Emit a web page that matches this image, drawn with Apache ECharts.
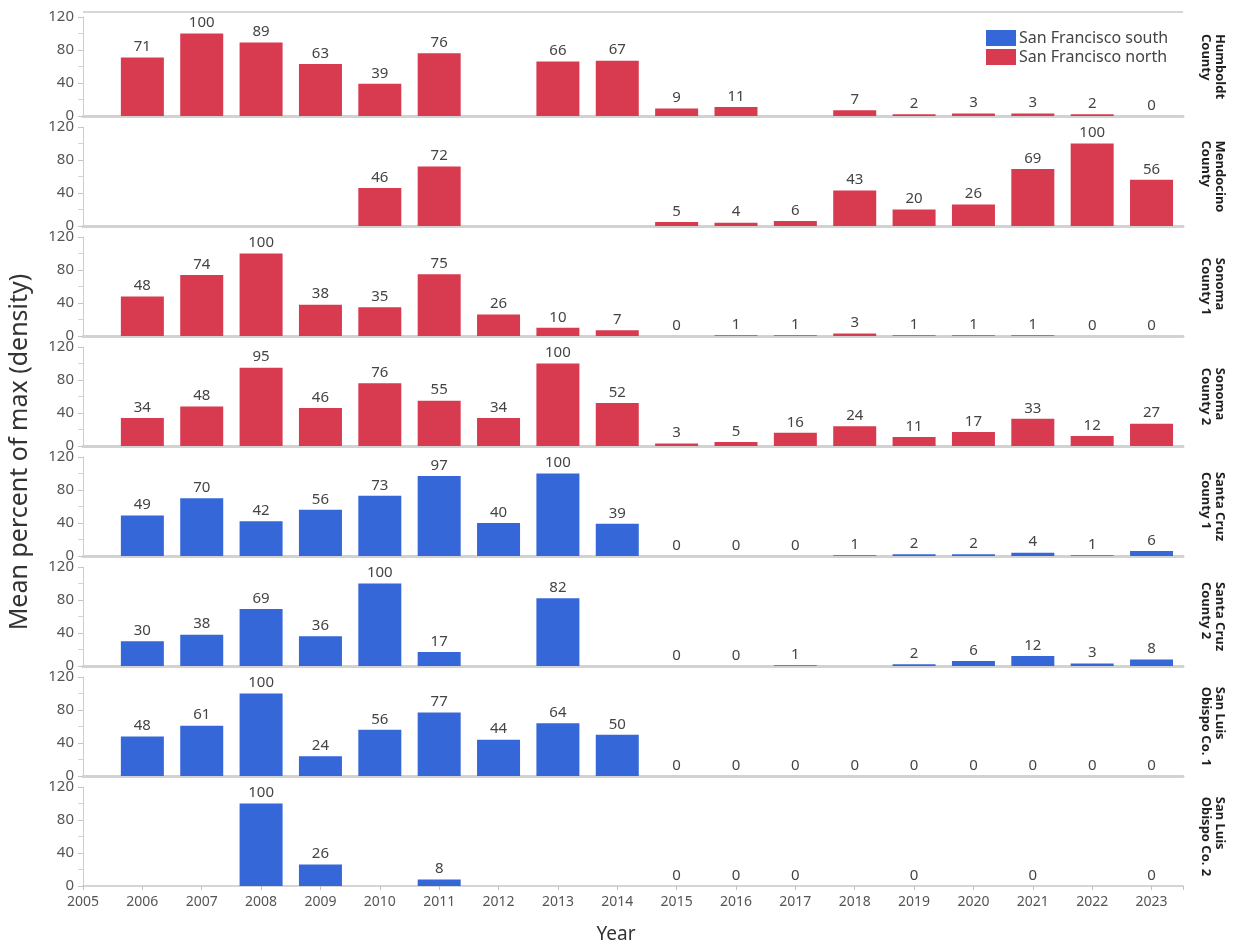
<!DOCTYPE html>
<html>
<head>
<meta charset="utf-8">
<title>Mean percent of max (density) by year</title>
<script src="https://cdn.jsdelivr.net/npm/echarts@6/dist/echarts.min.js"></script>
<style>
  html, body { margin: 0; padding: 0; background: #fff; }
  #chart { width: 1247px; height: 946px; }
</style>
</head>
<body>
<div id="chart"></div>
<script>
// Survey years on the shared x axis
const years = [2006, 2007, 2008, 2009, 2010, 2011, 2012, 2013, 2014,
               2015, 2016, 2017, 2018, 2019, 2020, 2021, 2022, 2023];

// Mean percent of max density per site (null = not sampled)
const humboldt      = [71, 100, 89, 63, 39, 76, null, 66, 67, 9, 11, null, 7, 2, 3, 3, 2, 0];
const mendocino     = [null, null, null, null, 46, 72, null, null, null, 5, 4, 6, 43, 20, 26, 69, 100, 56];
const sonoma1       = [48, 74, 100, 38, 35, 75, 26, 10, 7, 0, 1, 1, 3, 1, 1, 1, 0, 0];
const sonoma2       = [34, 48, 95, 46, 76, 55, 34, 100, 52, 3, 5, 16, 24, 11, 17, 33, 12, 27];
const santaCruz1    = [49, 70, 42, 56, 73, 97, 40, 100, 39, 0, 0, 0, 1, 2, 2, 4, 1, 6];
const santaCruz2    = [30, 38, 69, 36, 100, 17, null, 82, null, 0, 0, 1, null, 2, 6, 12, 3, 8];
const sanLuisObispo1 = [48, 61, 100, 24, 56, 77, 44, 64, 50, 0, 0, 0, 0, 0, 0, 0, 0, 0];
const sanLuisObispo2 = [null, null, 100, 26, null, 8, null, null, null, 0, 0, 0, null, 0, null, 0, null, 0];

// Panel labels (right side) and region groups
const panelLabels = [
  'Humboldt\nCounty', 'Mendocino\nCounty', 'Sonoma\nCounty 1', 'Sonoma\nCounty 2',
  'Santa Cruz\nCounty 1', 'Santa Cruz\nCounty 2', 'San Luis\nObispo Co. 1', 'San Luis\nObispo Co. 2'
];
const regionNorth = 'San Francisco north';
const regionSouth = 'San Francisco south';
const panelValues = [humboldt, mendocino, sonoma1, sonoma2, santaCruz1, santaCruz2, sanLuisObispo1, sanLuisObispo2];
const panelRegion = [regionNorth, regionNorth, regionNorth, regionNorth, regionSouth, regionSouth, regionSouth, regionSouth];
const yTicks = [0, 40, 80, 120];

const COLORS = {};
COLORS[regionNorth] = '#d83a4f';
COLORS[regionSouth] = '#3567d8';

const FONT = '"Noto Sans", "DejaVu Sans", sans-serif';
const PLOT_LEFT = 83, PLOT_RIGHT = 1183;
const PANEL_TOP0 = 17, PANEL_STEP = 110, PANEL_H = 99;

const chart = echarts.init(document.getElementById('chart'), null, { renderer: 'canvas' });

// text width helper for the rotated side labels
const measureCtx = document.createElement('canvas').getContext('2d');
function lineWidth(txt, font) {
  measureCtx.font = font;
  return Math.max.apply(null, txt.split('\n').map(s => measureCtx.measureText(s).width));
}

const grids = [], xAxes = [], yAxes = [], series = [], graphics = [];
const n = panelValues.length;

panelValues.forEach((vals, i) => {
  const last = i === n - 1;
  const top = PANEL_TOP0 + i * PANEL_STEP;
  grids.push({ left: PLOT_LEFT, width: PLOT_RIGHT - PLOT_LEFT, top: top, height: PANEL_H });

  xAxes.push({
    type: 'value', gridIndex: i, min: 2005, max: 2023.53, interval: 1,
    axisLine: { show: true, lineStyle: { color: last ? '#c8c8c8' : '#d2d2d2', width: last ? 1.5 : 3 } },
    axisTick: { show: last, length: 4, lineStyle: { color: '#c0c0c0' } },
    axisLabel: {
      show: last, fontSize: 14, color: '#555', fontFamily: FONT, margin: 9,
      formatter: v => (Number.isInteger(v) ? String(v) : '')
    },
    splitLine: { show: false }
  });

  yAxes.push({
    type: 'value', gridIndex: i, min: 0, max: 120, interval: 40,
    axisLine: { show: true, lineStyle: { color: '#cccccc', width: 1 } },
    axisTick: { show: true, length: 5, lineStyle: { color: '#c4c4c4' } },
    minorTick: { show: true, splitNumber: 2, length: 5, lineStyle: { color: '#d4d4d4' } },
    axisLabel: {
      fontSize: 15, color: '#555', fontFamily: FONT, margin: 9,
      formatter: v => (yTicks.indexOf(v) >= 0 ? String(v) : '')
    },
    splitLine: { show: false }
  });

  const region = panelRegion[i];
  const data = [];
  years.forEach((yr, k) => { if (vals[k] !== null) data.push([yr, vals[k]]); });
  series.push({
    type: 'bar', name: region, xAxisIndex: i, yAxisIndex: i,
    data: data, barWidth: 43,
    itemStyle: { color: COLORS[region] },
    label: {
      show: true, position: 'top', distance: 3,
      fontSize: 15, color: '#444', fontFamily: FONT,
      formatter: p => String(p.value[1])
    }
  });

  // rotated site name on the right of each panel
  const labelFont = 'bold 13px ' + FONT;
  const w = lineWidth(panelLabels[i], labelFont);
  graphics.push({
    type: 'text',
    x: 1213, y: top + PANEL_H / 2 - w / 2,
    rotation: -Math.PI / 2,
    style: {
      text: panelLabels[i], font: labelFont, fill: '#1e1e1e',
      align: 'left', verticalAlign: 'middle', lineHeight: 14
    }
  });
});

// top border of the first panel
graphics.push({
  type: 'line',
  shape: { x1: PLOT_LEFT, y1: 12, x2: PLOT_RIGHT, y2: 12 },
  style: { stroke: '#d6d6d6', lineWidth: 2 }
});

// shared axis titles
graphics.push({
  type: 'text', x: 20, y: 452, rotation: Math.PI / 2,
  style: {
    text: 'Mean percent of max (density)', font: '25px ' + FONT, fill: '#333',
    align: 'center', verticalAlign: 'middle'
  }
});
graphics.push({
  type: 'text', x: 616, y: 935,
  style: { text: 'Year', font: '19px ' + FONT, fill: '#333', align: 'center', verticalAlign: 'middle' }
});

chart.setOption({
  animation: false,
  backgroundColor: '#ffffff',
  textStyle: { fontFamily: FONT },
  grid: grids,
  xAxis: xAxes,
  yAxis: yAxes,
  legend: {
    orient: 'vertical', left: 981, top: 25,
    data: [regionSouth, regionNorth],
    icon: 'rect', itemWidth: 30, itemHeight: 16, itemGap: 3,
    textStyle: { fontSize: 16, color: '#444', fontFamily: FONT, padding: [0, 0, 0, -2] }
  },
  series: series,
  graphic: graphics
});
</script>
</body>
</html>
